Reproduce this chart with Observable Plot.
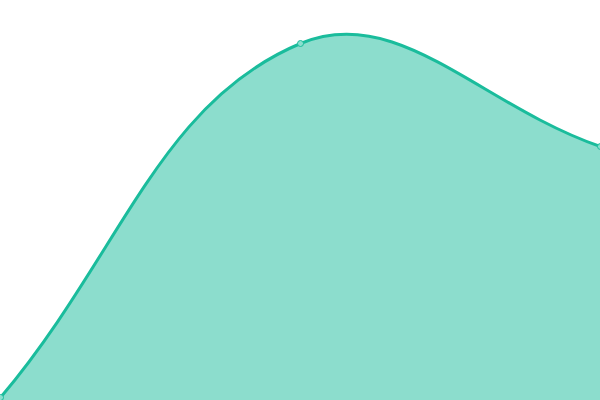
<!DOCTYPE html>
<html><head><meta charset="utf-8">
<script src="https://cdn.jsdelivr.net/npm/d3@7"></script>
<script src="https://cdn.jsdelivr.net/npm/@observablehq/plot@0.6"></script>
<style>body{margin:0;background:#fff}</style>
</head><body><div id="chart"></div>
<script>
const xs = [0, 1, 2];
const values = [0.75, 89.25, 63.5];
const data = xs.map((x, i) => ({x, y: values[i]}));

// Spline curve factory (tension-based control points, like a classic smooth line chart)
function splineCurve(tension) {
  function Curve(context) { this._context = context; }
  Curve.prototype = {
    areaStart() { this._line = 0; },
    areaEnd() { this._line = NaN; },
    lineStart() { this._pts = []; },
    point(x, y) { this._pts.push([+x, +y]); },
    lineEnd() {
      const p = this._pts, n = p.length, ctx = this._context;
      if (n) {
        if (this._line) ctx.lineTo(p[0][0], p[0][1]); else ctx.moveTo(p[0][0], p[0][1]);
        const cps = p.map((cur, i) => {
          const prev = p[Math.max(0, i - 1)], next = p[Math.min(n - 1, i + 1)];
          const d01 = Math.hypot(cur[0] - prev[0], cur[1] - prev[1]);
          const d12 = Math.hypot(next[0] - cur[0], next[1] - cur[1]);
          let s01 = d01 / (d01 + d12), s12 = d12 / (d01 + d12);
          if (!isFinite(s01)) s01 = 0;
          if (!isFinite(s12)) s12 = 0;
          const fa = tension * s01, fb = tension * s12;
          return {
            px: cur[0] - fa * (next[0] - prev[0]), py: cur[1] - fa * (next[1] - prev[1]),
            nx: cur[0] + fb * (next[0] - prev[0]), ny: cur[1] + fb * (next[1] - prev[1])
          };
        });
        for (let i = 1; i < n; ++i) {
          ctx.bezierCurveTo(cps[i - 1].nx, cps[i - 1].ny, cps[i].px, cps[i].py, p[i][0], p[i][1]);
        }
      }
      if (this._line || (this._line !== 0 && n === 1)) ctx.closePath();
      this._line = 1 - this._line;
    }
  };
  return (context) => new Curve(context);
}
const curve = splineCurve(0.4);

const chart = Plot.plot({
  width: 600, height: 400,
  margin: 0,
  x: {domain: [0, 2], axis: null},
  y: {domain: [0, 100], axis: null},
  marks: [
    Plot.areaY(data, {x: "x", y: "y", curve, fill: "#1abc9c", fillOpacity: 0.5}),
    Plot.lineY(data, {x: "x", y: "y", curve, stroke: "#1abc9c", strokeWidth: 3}),
    Plot.dot(data, {x: "x", y: "y", r: 3, fill: "#8ae0cf", stroke: "#1abc9c", strokeWidth: 1})
  ]
});
document.getElementById("chart").appendChild(chart);
</script></body></html>
